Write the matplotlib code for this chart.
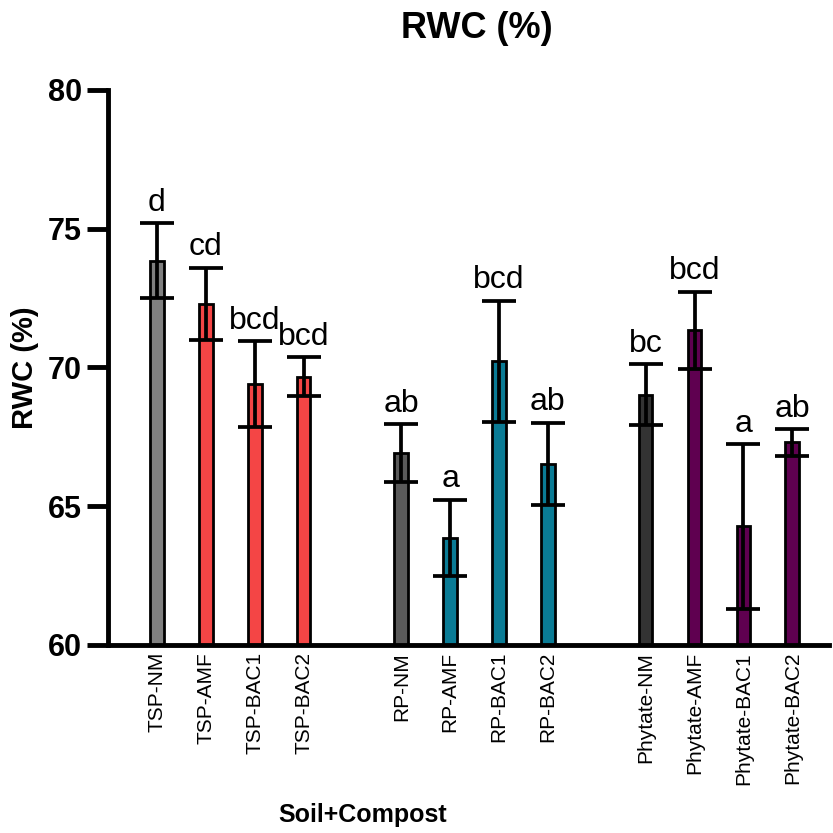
import numpy as np
import matplotlib
matplotlib.use('Agg')
import matplotlib.pyplot as plt

plt.rcParams['font.family'] = ['Liberation Sans', 'DejaVu Sans']

labels = ['TSP-NM', 'TSP-AMF', 'TSP-BAC1', 'TSP-BAC2',
          'RP-NM', 'RP-AMF', 'RP-BAC1', 'RP-BAC2',
          'Phytate-NM', 'Phytate-AMF', 'Phytate-BAC1', 'Phytate-BAC2']
means = [73.85, 72.3, 69.4, 69.67,
         66.92, 63.85, 70.22, 66.53,
         69.02, 71.34, 64.27, 67.3]
sds = [1.35, 1.3, 1.55, 0.69,
       1.04, 1.38, 2.18, 1.48,
       1.1, 1.38, 2.96, 0.48]
letters = ['d', 'cd', 'bcd', 'bcd',
           'ab', 'a', 'bcd', 'ab',
           'bc', 'bcd', 'a', 'ab']
colors = ['#808080', '#f44545', '#f44545', '#f44545',
          '#5a5a5a', '#0a7b95', '#0a7b95', '#0a7b95',
          '#333333', '#5f0050', '#5f0050', '#5f0050']

# 4 bars per group, one empty slot between groups
x = np.array([0, 1, 2, 3, 5, 6, 7, 8, 10, 11, 12, 13])

fig = plt.figure(figsize=(8.33, 8.33), dpi=100)
ax = fig.add_axes([0.1297, 0.2257, 0.866, 0.6663])

ax.bar(x, means, width=0.28, color=colors, edgecolor='black', linewidth=2, zorder=2)
ax.errorbar(x, means, yerr=sds, fmt='none', ecolor='black', elinewidth=2.7,
            capsize=12, capthick=2.7, zorder=3)

for xi, m, s, t in zip(x, means, sds, letters):
    ax.text(xi, m + s + 0.2, t, ha='center', va='bottom', fontsize=23)

ax.set_ylim(60, 80)
ax.set_xlim(-1.0, 13.76)
ax.set_yticks([60, 65, 70, 75, 80])
ax.set_xticks(x)
ax.set_xticklabels(labels, rotation=90, fontsize=15)
ax.tick_params(axis='x', length=0, pad=5)
ax.tick_params(axis='y', length=15, width=3.5, labelsize=22, pad=4)
for lab in ax.get_yticklabels():
    lab.set_fontweight('bold')

ax.spines['top'].set_visible(False)
ax.spines['right'].set_visible(False)
ax.spines['left'].set_linewidth(3.5)
ax.spines['bottom'].set_linewidth(3.5)

ax.set_ylabel('RWC (%)', fontsize=21, fontweight='bold', labelpad=6)
fig.text(0.435, 0.022, 'Soil+Compost', ha='center', va='center', fontsize=18,
         fontweight='bold')
fig.text(0.573, 0.966, 'RWC (%)', ha='center', va='center', fontsize=26, fontweight='bold')

fig.savefig('out.png', dpi=100)
